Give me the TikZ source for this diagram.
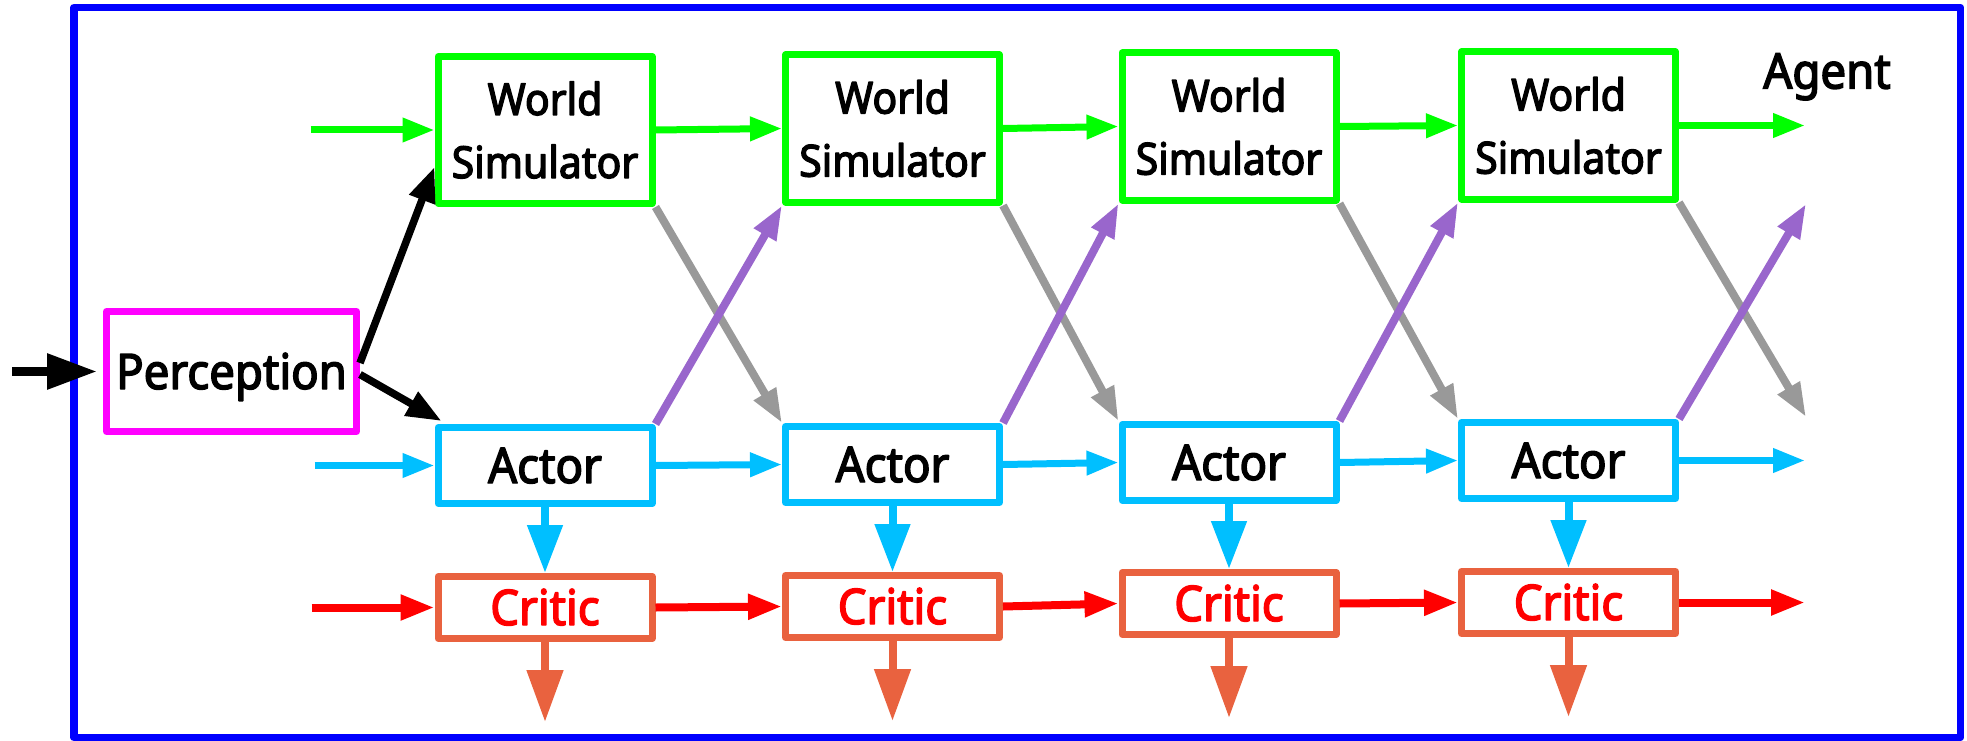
\documentclass[tikz,border=0pt]{standalone}
\usepackage{fontspec}
\setmainfont{Noto Sans}[FakeStretch=0.93,FakeBold=3]
\usetikzlibrary{arrows.meta}
\definecolor{frameblue}{HTML}{0000FF}
\definecolor{wsgreen}{HTML}{00FF00}
\definecolor{actblue}{HTML}{00BFFF}
\definecolor{permag}{HTML}{FF00FF}
\definecolor{critorange}{HTML}{E9623F}
\definecolor{critred}{HTML}{FF0000}
\definecolor{diaggray}{HTML}{999999}
\definecolor{diagpurple}{HTML}{9966CC}
\tikzset{
  boxbase/.style={draw, line width=7pt, line join=round, fill=white, inner sep=0pt, minimum width=214pt},
  wsbox/.style={boxbase, draw=wsgreen, minimum height=147pt, align=center,
     font=\fontsize{44pt}{63pt}\selectfont},
  actbox/.style={boxbase, draw=actblue, minimum height=76pt, text height=35pt, text depth=0pt,
     font=\fontsize{49pt}{58pt}\selectfont},
  critbox/.style={boxbase, draw=critorange, minimum height=62pt, text height=35pt, text depth=0pt, text=critred,
     font=\fontsize{49pt}{58pt}\selectfont},
  perbox/.style={boxbase, draw=permag, minimum width=250pt, minimum height=120pt, text height=35pt, text depth=0pt,
     font=\fontsize{49pt}{58pt}\selectfont},
  agentlabel/.style={inner sep=0pt, text height=35pt, text depth=0pt, font=\fontsize{49pt}{58pt}\selectfont},
  harrow/.style={line width=7pt, -{Triangle[length=32pt,width=23pt]}},
  garrow/.style={harrow, draw=wsgreen},
  barrow/.style={harrow, draw=actblue},
  rarrow/.style={harrow, draw=critred, line width=8pt, -{Triangle[length=34pt,width=24pt]}},
  downblue/.style={draw=actblue, line width=8pt, -{Triangle[length=48pt,width=34pt]}},
  downorange/.style={draw=critorange, line width=8pt, -{Triangle[length=52pt,width=35pt]}},
  grayarrow/.style={draw=diaggray, line width=8pt, -{Triangle[length=34pt,width=24pt]}},
  purparrow/.style={draw=diagpurple, line width=8pt, -{Triangle[length=34pt,width=24pt]}},
  blackarrow/.style={draw=black, line width=7.5pt, -{Triangle[length=35pt,width=26pt]}},
  inarrow/.style={draw=black, line width=9pt, -{Triangle[length=50pt,width=34pt]}},
}
\begin{document}
\begin{tikzpicture}[x=1pt,y=-1pt]
\useasboundingbox (0,0) rectangle (1967,741);
% agent frame
\draw[frameblue, line width=7.5pt, line join=round] (74,7.5) rectangle (1960.5,737.5);
\node[agentlabel] (agent) at (1827,71) {Agent};

% perception
\node[perbox] (p) at (231.5,371.5) {Perception};

% columns
\node[wsbox] (w1) at (545,130) {World\\Simulator};
\node[wsbox] (w2) at (892.5,128.5) {World\\Simulator};
\node[wsbox] (w3) at (1229,126.5) {World\\Simulator};
\node[wsbox] (w4) at (1568.5,125.5) {World\\Simulator};

\node[actbox] (a1) at (545,465.5) {Actor};
\node[actbox] (a2) at (892.5,464.5) {Actor};
\node[actbox] (a3) at (1229,462.5) {Actor};
\node[actbox] (a4) at (1568.5,460.5) {Actor};

\node[critbox] (c1) at (545,607.5) {Critic};
\node[critbox] (c2) at (892.5,606.5) {Critic};
\node[critbox] (c3) at (1229,603.5) {Critic};
\node[critbox] (c4) at (1568.5,602.5) {Critic};

% free ends
\coordinate (pin) at ([xshift=-91pt]p.west);
\coordinate (gin) at ([xshift=-124pt]w1.west);
\coordinate (bin) at ([xshift=-120pt]a1.west);
\coordinate (rin) at ([xshift=-123pt]c1.west);
\coordinate (gout) at ([xshift=126pt]w4.east);
\coordinate (bout) at ([xshift=126pt]a4.east);
\coordinate (rout) at ([xshift=126pt]c4.east);
\coordinate (grayout) at (1806,417);
\coordinate (purpout) at (1806,204);
\coordinate (o1) at ([yshift=-80pt]c1.south);
\coordinate (o2) at ([yshift=-80pt]c2.south);
\coordinate (o3) at ([yshift=-80pt]c3.south);
\coordinate (o4) at ([yshift=-80pt]c4.south);

% inputs
\draw[inarrow, shorten >=6pt] (pin) -- (p.west);
\draw[blackarrow] ([yshift=8.5pt]p.east) -- ([yshift=-37pt]w1.west);
\draw[blackarrow] ([yshift=-3pt]p.east) -- ([xshift=7pt,yshift=3pt]a1.north west);
\draw[garrow] (gin) -- (w1.west);
\draw[barrow] (bin) -- (a1.west);
\draw[rarrow] (rin) -- (c1.west);

% horizontal chains
\draw[garrow] (w1.east) -- (w2.west);
\draw[garrow] (w2.east) -- (w3.west);
\draw[garrow] (w3.east) -- (w4.west);
\draw[garrow] (w4.east) -- (gout);
\draw[barrow] (a1.east) -- (a2.west);
\draw[barrow] (a2.east) -- (a3.west);
\draw[barrow] (a3.east) -- (a4.west);
\draw[barrow] (a4.east) -- (bout);
\draw[rarrow] (c1.east) -- (c2.west);
\draw[rarrow] (c2.east) -- (c3.west);
\draw[rarrow] (c3.east) -- (c4.west);
\draw[rarrow] (c4.east) -- (rout);

% diagonals
\draw[grayarrow] (w1.south east) -- (a2.north west);
\draw[grayarrow] (w2.south east) -- (a3.north west);
\draw[grayarrow] (w3.south east) -- (a4.north west);
\draw[grayarrow] (w4.south east) -- (grayout);
\draw[purparrow] (a1.north east) -- (w2.south west);
\draw[purparrow] (a2.north east) -- (w3.south west);
\draw[purparrow] (a3.north east) -- (w4.south west);
\draw[purparrow] (a4.north east) -- (purpout);

% vertical
\draw[downblue] (a1.south) -- (c1.north);
\draw[downblue] (a2.south) -- (c2.north);
\draw[downblue] (a3.south) -- (c3.north);
\draw[downblue] (a4.south) -- (c4.north);
\draw[downorange] (c1.south) -- (o1);
\draw[downorange] (c2.south) -- (o2);
\draw[downorange] (c3.south) -- (o3);
\draw[downorange] (c4.south) -- (o4);
\end{tikzpicture}
\end{document}
